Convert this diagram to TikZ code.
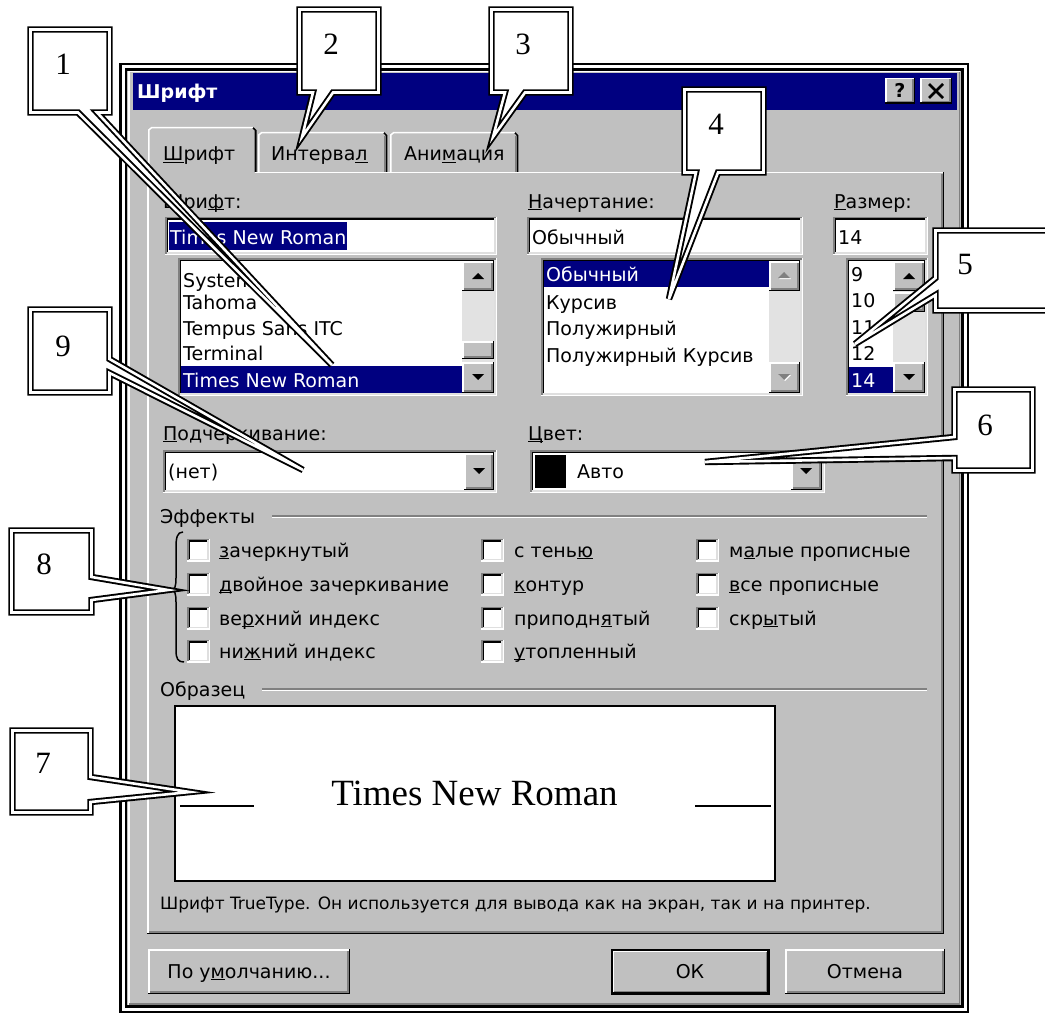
\documentclass[tikz,border=0pt]{standalone}
\usepackage{fontspec}
\setmainfont{DejaVu Sans}
\newfontfamily\tnr{Liberation Serif}
\definecolor{navy}{HTML}{000080}
\definecolor{wgray}{HTML}{C0C0C0}
\definecolor{dgray}{HTML}{808080}
\definecolor{lgray}{HTML}{DFDFDF}
\definecolor{track}{HTML}{E2E2E2}
\newcommand\mnem[1]{\setbox0\hbox{#1}\rlap{\rule[-2.4pt]{\wd0}{1.4pt}}\box0}
\newcommand\uisz{\fontsize{19}{22}\selectfont}
\newcommand\wsunken[4]{%
 \fill[white] (#1,#2) rectangle (#3,#4);
 \draw[dgray,line width=1.5pt] (#1+0.75,#4) -- (#1+0.75,#2+0.75) -- (#3,#2+0.75);
 \draw[black,line width=1.5pt] (#1+2.25,#4-1.5) -- (#1+2.25,#2+2.25) -- (#3-1.5,#2+2.25);
 \draw[white,line width=1.5pt] (#1,#4-0.75) -- (#3-0.75,#4-0.75) -- (#3-0.75,#2);
 \draw[lgray,line width=1.5pt] (#1+1.5,#4-2.25) -- (#3-2.25,#4-2.25) -- (#3-2.25,#2+1.5);
}
\newcommand\wraised[4]{%
 \fill[wgray] (#1,#2) rectangle (#3,#4);
 \draw[black,line width=1.5pt] (#1,#4-0.75) -- (#3-0.75,#4-0.75) -- (#3-0.75,#2);
 \draw[dgray,line width=1.5pt] (#1+1.5,#4-2.25) -- (#3-2.25,#4-2.25) -- (#3-2.25,#2+1.5);
 \draw[white,line width=1.5pt] (#1+0.75,#4-1.5) -- (#1+0.75,#2+0.75) -- (#3-1.5,#2+0.75);
}
\newcommand\tridn[3]{\fill[#3] (#1-6,#2-3) -- (#1+6,#2-3) -- (#1,#2+3) -- cycle;}
\newcommand\triup[3]{\fill[#3] (#1-6,#2+3) -- (#1+6,#2+3) -- (#1,#2-3) -- cycle;}
\newcommand\chkbox[2]{\wsunken{#1}{#2-11.5}{#1+23}{#2+11.5}}
\tikzset{
 lbl/.style={anchor=base west, inner sep=0pt, font=\uisz},
 num/.style={anchor=base, inner sep=0pt, font=\tnr\fontsize{31}{31}\selectfont},
 callout/.style={draw=black, line width=1.9pt, double=white, double distance=2.6pt, fill=white, line join=miter},
 btntext/.style={anchor=base, inner sep=0pt, font=\uisz},
}
\begin{document}
\begin{tikzpicture}[x=1pt,y=-1pt]
\path[use as bounding box] (0,0) rectangle (1045,1014);
\clip (0,0) rectangle (1045,1014);
\fill[white] (0,0) rectangle (1045,1014);

% ---------- dialog frame ----------
\fill[wgray] (121,65) rectangle (967,1011);
\draw[line width=2.5pt, double=white, double distance=3pt] (123.3,67) rectangle (965,1009);
\draw[white,line width=1.5pt] (129,1005) -- (129,71.5) -- (960,71.5);
\draw[dgray,line width=1.5pt] (129,1004) -- (959.5,1004) -- (959.5,72);
\fill[navy] (133,73) rectangle (957,110);
\node[anchor=base west, inner sep=0pt, font=\uisz\bfseries, text=white] (title) at (137,99) {Шрифт};
\wraised{885}{78}{915}{104}
\node[anchor=base, inner sep=0pt, font=\uisz\bfseries] (qm) at (900,98) {?};
\wraised{920}{78}{952}{104}
\draw[line width=2.6pt] (929,84) -- (943,98) (943,84) -- (929,98);

% ---------- tabs and panel ----------
\draw[white, line width=1.5pt] (147.75,933) -- (147.75,172.75) -- (943,172.75);
\draw[black, line width=1.5pt] (147,933.25) -- (943.25,933.25) -- (943.25,172);
\draw[dgray, line width=1.5pt] (149,931.75) -- (941.75,931.75) -- (941.75,174);
% inactive tabs
\draw[white, line width=1.5pt] (258.75,172) -- (258.75,135) -- (261.5,132.75) -- (384,132.75);
\draw[black, line width=1.5pt] (384,132.75) -- (386.5,135.5) -- (386.5,172);
\draw[dgray, line width=1.5pt] (385,136) -- (385,172);
\draw[white, line width=1.5pt] (390.75,172) -- (390.75,135) -- (393.5,132.75) -- (515,132.75);
\draw[black, line width=1.5pt] (515,132.75) -- (517.5,135.5) -- (517.5,172);
\draw[dgray, line width=1.5pt] (516,136) -- (516,172);
% active tab
\fill[wgray] (149.5,128.5) rectangle (254.5,175);
\draw[white, line width=1.5pt] (148.75,174) -- (148.75,130) -- (151.5,127.75) -- (253,127.75);
\draw[black, line width=1.5pt] (253,127.75) -- (255.75,130.5) -- (255.75,172);
\draw[dgray, line width=1.5pt] (254.25,131) -- (254.25,172);
\node[lbl] (tab1) at (163,161) {\mnem{Ш}рифт};
\node[lbl] (tab2) at (271,161) {Интерва\mnem{л}};
\node[lbl] (tab3) at (404,161) {Ани\mnem{м}ация};

% ---------- font ----------
\node[lbl] (lfont) at (163,208) {Шри\mnem{ф}т:};
\wsunken{165}{217}{497}{255}
\fill[navy] (169,222) rectangle (347,250);
\node[lbl, text=white] (vfont) at (170,244) {Times New Roman};
\wsunken{178}{258}{497}{396}
\fill[navy] (181,366) rectangle (462,393);
\node[lbl] (f1) at (183,287) {System};
\node[lbl] (f2) at (183,309) {Tahoma};
\node[lbl] (f3) at (183,335) {Tempus Sans ITC};
\node[lbl] (f4) at (183,360) {Terminal};
\node[lbl, text=white] (f5) at (183,387) {Times New Roman};
\fill[track] (462,261) rectangle (494,393);
\wraised{462}{261}{494}{291}
\triup{478}{276}{black}
\wraised{462}{341}{494}{359}
\wraised{462}{362}{494}{393}
\tridn{478}{377}{black}

% ---------- style ----------
\node[lbl] (lstyle) at (528,208) {\mnem{Н}ачертание:};
\wsunken{527}{217}{803}{255}
\node[lbl] (vstyle) at (532,244) {Обычный};
\wsunken{541}{258}{803}{396}
\fill[navy] (544,261) rectangle (769,287);
\node[lbl, text=white] (s1) at (546,281) {Обычный};
\node[lbl] (s2) at (546,309) {Курсив};
\node[lbl] (s3) at (546,335) {Полужирный};
\node[lbl] (s4) at (546,362) {Полужирный Курсив};
\fill[track] (769,261) rectangle (800,393);
\wraised{769}{261}{800}{291}
\triup{785}{276}{white}
\triup{784}{275}{dgray}
\wraised{769}{362}{800}{393}
\tridn{785}{378}{white}
\tridn{784}{377}{dgray}

% ---------- size ----------
\node[lbl] (lsize) at (834,208) {\mnem{Р}азмер:};
\wsunken{833}{217}{928}{255}
\node[lbl] (vsize) at (838,244) {14};
\wsunken{846}{258}{928}{396}
\fill[navy] (849,367) rectangle (893,393);
\node[lbl] (z1) at (851,281) {9};
\node[lbl] (z2) at (851,307) {10};
\node[lbl] (z3) at (851,334) {11};
\node[lbl] (z4) at (851,360) {12};
\node[lbl, text=white] (z5) at (851,387) {14};
\fill[track] (893,261) rectangle (925,393);
\wraised{893}{261}{925}{291}
\triup{909}{276}{black}
\wraised{893}{292}{925}{312}
\wraised{893}{362}{925}{393}
\tridn{909}{377}{black}

% ---------- underline / colour ----------
\node[lbl] (lund) at (163,440) {\mnem{П}одчеркивание:};
\wsunken{163}{450}{497}{493}
\node[lbl] (vund) at (168,478) {(нет)};
\wraised{464}{453}{494}{490}
\tridn{479}{471}{black}
\node[lbl] (lcol) at (528,440) {\mnem{Ц}вет:};
\wsunken{530}{450}{825}{493}
\fill[black] (535,455) rectangle (566,488);
\node[lbl] (vcol) at (577,478) {Авто};
\wraised{791}{453}{822}{490}
\tridn{806}{471}{black}

% ---------- effects ----------
\node[lbl] (leff) at (160,523) {Эффекты};
\draw[dgray, line width=1.5pt] (272,516) -- (927,516);
\draw[white, line width=1.5pt] (272,517.5) -- (927,517.5);
\chkbox{187}{550}\chkbox{187}{584}\chkbox{187}{618}\chkbox{187}{651}
\chkbox{481}{550}\chkbox{481}{584}\chkbox{481}{618}\chkbox{481}{651}
\chkbox{696}{550}\chkbox{696}{584}\chkbox{696}{618}
\node[lbl] (e1) at (219,557) {\mnem{з}ачеркнутый};
\node[lbl] (e2) at (219,591) {\mnem{д}войное зачеркивание};
\node[lbl] (e3) at (219,625) {ве\mnem{р}хний индекс};
\node[lbl] (e4) at (219,658) {ни\mnem{ж}ний индекс};
\node[lbl] (e5) at (514,557) {с тень\mnem{ю}};
\node[lbl] (e6) at (514,591) {\mnem{к}онтур};
\node[lbl] (e7) at (514,625) {приподн\mnem{я}тый};
\node[lbl] (e8) at (514,658) {\mnem{у}топленный};
\node[lbl] (e9) at (729,557) {м\mnem{а}лые прописные};
\node[lbl] (e10) at (729,591) {\mnem{в}се прописные};
\node[lbl] (e11) at (729,625) {скр\mnem{ы}тый};
% brace
\draw[line width=1.5pt] (183,532) .. controls (177,532) and (176,538) .. (176,548) -- (176,578) .. controls (176,586) and (175,590) .. (171,590) .. controls (175,590) and (176,594) .. (176,602) -- (176,650) .. controls (176,659) and (178,662) .. (184,662);

% ---------- sample ----------
\node[lbl] (lsamp) at (160,696) {Образец};
\draw[dgray, line width=1.5pt] (262,689) -- (927,689);
\draw[white, line width=1.5pt] (262,690.5) -- (927,690.5);
\draw[black, line width=1.5pt, fill=white] (175,706) rectangle (775,881);
\node[anchor=base, inner sep=0pt, font=\tnr\fontsize{37}{37}\selectfont] (samp) at (474.5,805) {Times New Roman};
\draw[line width=1.5pt] (180,806) -- (254,806) (695,806) -- (771,806);
\node[anchor=base west, inner sep=0pt, font=\fontsize{17}{20}\selectfont] (desc) at (160,909) {Шрифт TrueType. Он используется для вывода как на экран, так и на принтер.};

% ---------- buttons ----------
\wraised{148}{949}{350}{994}
\node[btntext] (bdef) at (249,978) {По у\mnem{м}олчанию...};
\draw[black, line width=1.5pt] (611.75,949.75) rectangle (769.25,994.25);
\wraised{612.5}{950.5}{768.5}{993.5}
\node[btntext] (bok) at (690,978) {ОК};
\wraised{785}{949}{945}{994}
\node[btntext] (bcan) at (865,978) {Отмена};

% ---------- callouts ----------
\coordinate (t1) at (332,365);
\coordinate (t2) at (302,137);
\coordinate (t3) at (493,137);
\coordinate (t4) at (669,299);
\coordinate (t5) at (855,344);
\coordinate (t6) at (705,462);
\coordinate (t7) at (190,792);
\coordinate (t8) at (168,590);
\coordinate (t9) at (303,470);
\draw[callout] (30.5,29.5) -- (109.5,29.5) -- (109.5,112.5) -- (97,112.5) -- (t1) -- (78,112.5) -- (30.5,112.5) -- cycle;
\draw[callout] (299.5,9.5) -- (378.5,9.5) -- (378.5,92.5) -- (333,92.5) -- (t2) -- (313,92.5) -- (299.5,92.5) -- cycle;
\draw[callout] (491.5,9.5) -- (570.5,9.5) -- (570.5,92.5) -- (525,92.5) -- (t3) -- (505,92.5) -- (491.5,92.5) -- cycle;
\draw[callout] (684.5,89.5) -- (763.5,89.5) -- (763.5,172.5) -- (718,172.5) -- (t4) -- (696,172.5) -- (684.5,172.5) -- cycle;
\draw[callout] (935.5,230.5) -- (1052,230.5) -- (1052,310.5) -- (935.5,310.5) -- (935.5,295) -- (t5) -- (935.5,278) -- cycle;
\draw[callout] (954.5,389.5) -- (1032.5,389.5) -- (1032.5,470.5) -- (954.5,470.5) -- (954.5,458) -- (t6) -- (954.5,437) -- cycle;
\draw[callout] (12.5,730.5) -- (90.5,730.5) -- (90.5,777) -- (t7) -- (90.5,802) -- (90.5,812.5) -- (12.5,812.5) -- cycle;
\draw[callout] (11.5,530.5) -- (91.5,530.5) -- (91.5,577) -- (t8) -- (91.5,600) -- (91.5,612.5) -- (11.5,612.5) -- cycle;
\draw[callout] (30.5,309.5) -- (109.5,309.5) -- (109.5,359) -- (t9) -- (109.5,373) -- (109.5,392.5) -- (30.5,392.5) -- cycle;
\node[num] (n1) at (63,75) {1};
\node[num] (n2) at (331,55) {2};
\node[num] (n3) at (523,55) {3};
\node[num] (n4) at (716,135) {4};
\node[num] (n5) at (965,274) {5};
\node[num] (n6) at (985,435) {6};
\node[num] (n7) at (43,773) {7};
\node[num] (n8) at (44,574) {8};
\node[num] (n9) at (63,356) {9};
\end{tikzpicture}
\end{document}
